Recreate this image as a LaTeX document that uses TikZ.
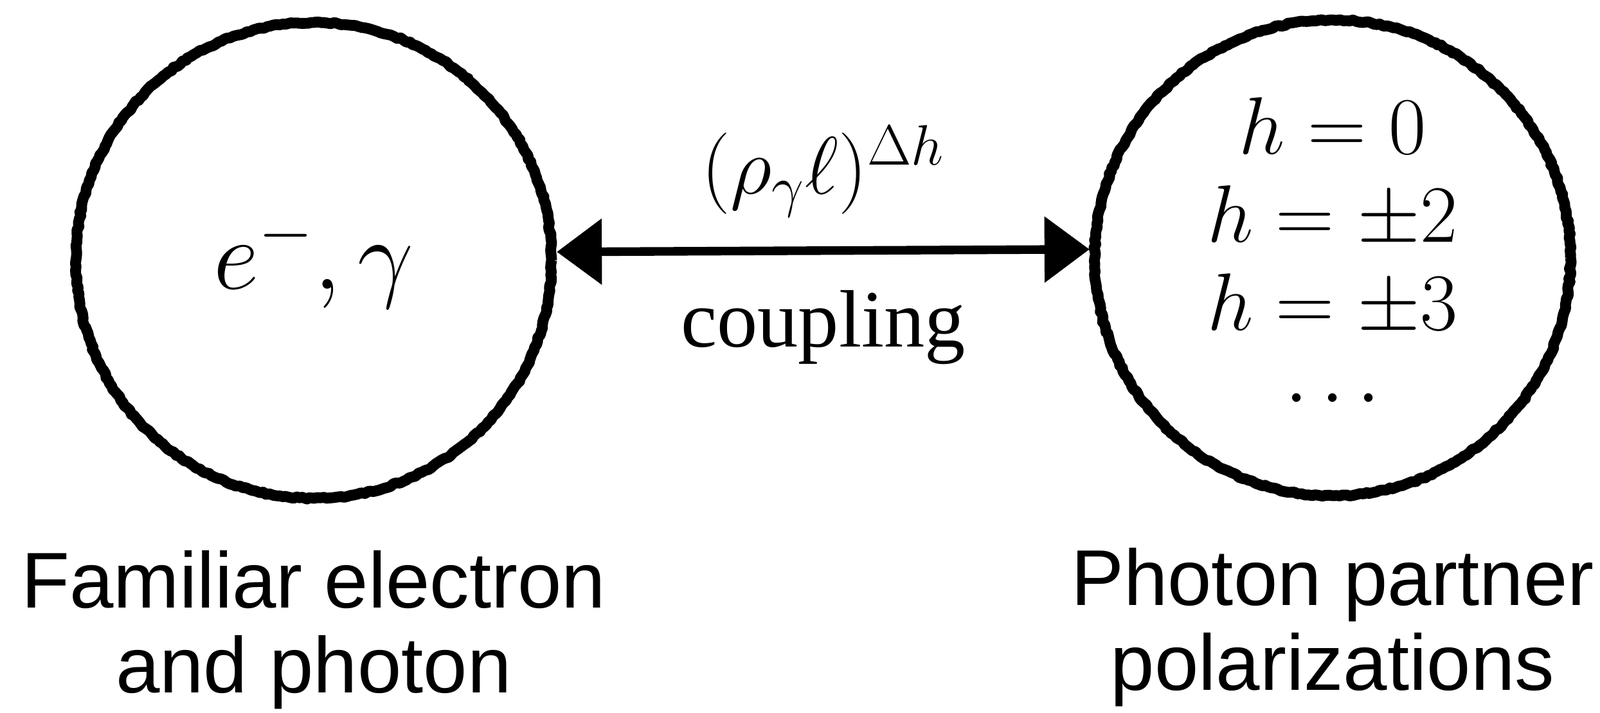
\RequirePackage{fix-cm}
\documentclass[tikz,border=0pt]{standalone}
\usepackage{fontspec}
\setmainfont{Liberation Serif}
\newfontfamily\capfont{Liberation Sans}
\usetikzlibrary{arrows.meta,positioning,decorations.pathmorphing}
\tikzset{>=Stealth}

\begin{document}
\begin{tikzpicture}[
    blob/.style={circle, draw, line width=4.8pt, line join=round, minimum size=7.4cm,
        inner sep=0pt, align=center,
        decorate, decoration={random steps, segment length=1.5pt, amplitude=0.4pt}},
    link/.style={{Triangle[length=7mm,width=10mm]}-{Triangle[length=7mm,width=10mm]},
        line width=3.8pt},
    caption/.style={align=center, inner sep=0pt, font=\capfont\fontsize{35}{37.5}\selectfont}
]
    \useasboundingbox (0,0) rectangle (24.89,-11.09);

    \node[blob, font=\fontsize{44}{50}\selectfont] (fam) at (4.88,-4.05) {$e^-,\gamma$};
    \node[blob, font=\fontsize{36}{39}\selectfont] (pol) at (20.73,-4.01)
        {$h=0$\\$h=\pm2$\\$h=\pm3$\\$\cdots$};

    \draw[link] (fam.2) -- node[above=0.45cm, inner sep=0pt, font=\fontsize{36}{40}\selectfont] (gain) {$(\rho_\gamma\ell)^{\Delta h}$}
        node[below=0.55cm, inner sep=0pt, font=\fontsize{36}{40}\selectfont] (coup) {coupling} (pol.178);

    \node[caption, below=0.72cm of fam] (famcap) {Familiar electron\\and photon};
    \node[caption, below=0.72cm of pol] (polcap) {Photon partner\\polarizations};
\end{tikzpicture}
\end{document}
